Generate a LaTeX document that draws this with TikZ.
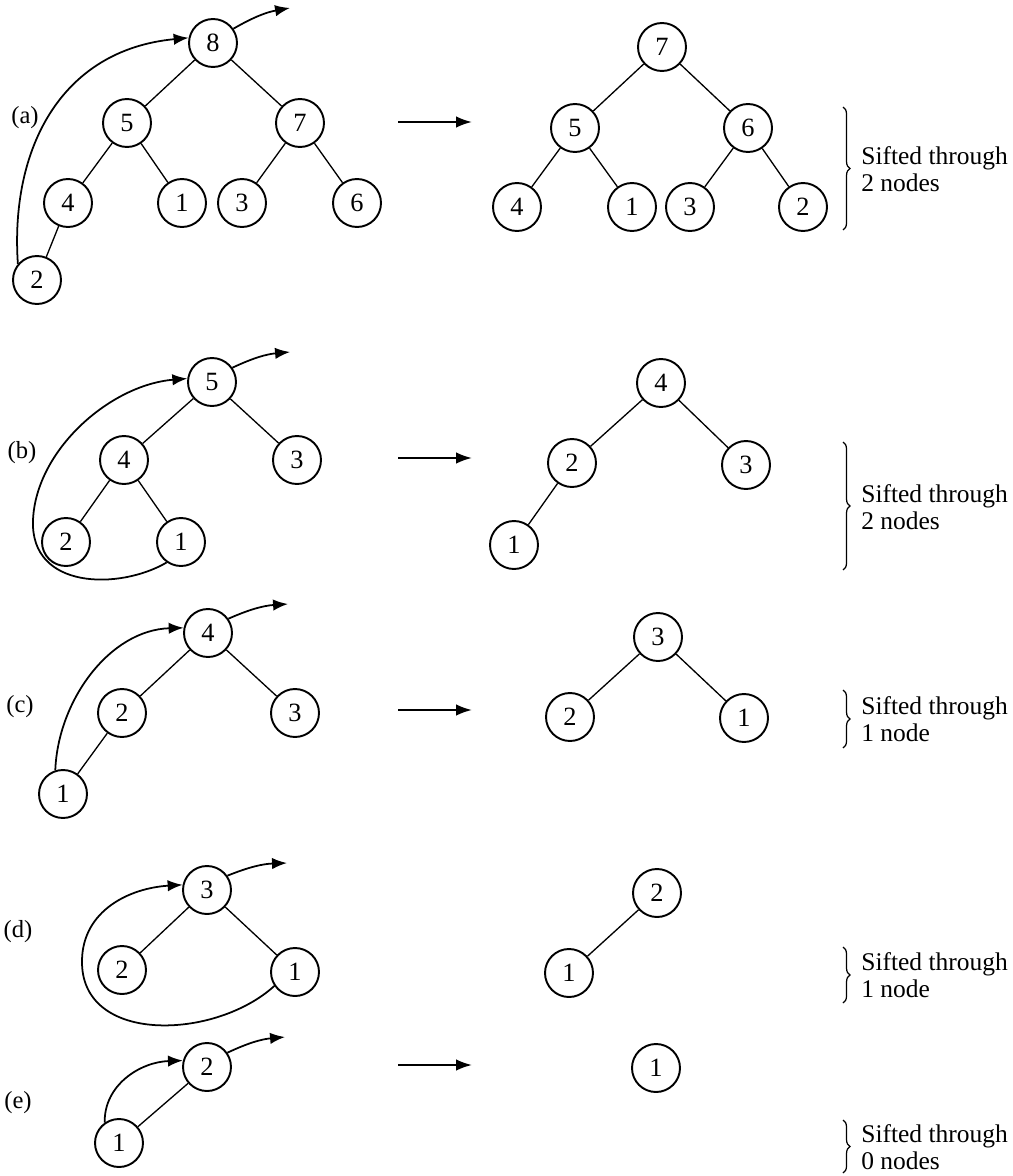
\documentclass[tikz,border=0pt]{standalone}
\usepackage{fontspec}
\setmainfont{Liberation Serif}
\usetikzlibrary{arrows.meta,decorations.pathreplacing}

\tikzset{
    heapnode/.style={circle, draw, line width=1.1pt, minimum size=0.96cm, inner sep=0pt, font=\fontsize{15}{15}\selectfont},
    link/.style={line width=0.75pt},
    sift/.style={line width=1pt, -{Latex[length=8.5pt,width=6.5pt]}},
    move/.style={line width=1.2pt, -{Latex[length=9pt,width=6.5pt]}},
    tag/.style={font=\fontsize{14}{14}\selectfont},
    note/.style={anchor=west, align=left, inner sep=0pt, font=\fontsize{14.5}{15}\selectfont},
    bracket/.style={decorate, decoration={brace, amplitude=4pt}, line width=0.7pt},
}

\begin{document}
\begin{tikzpicture}[x=0.02cm, y=0.02cm]
    \useasboundingbox (0,0) rectangle (1013,-1176);

    % (a) before
    \node[tag] (taga) at (25,-118) {(a)};
    \foreach \n/\x/\y in {8/213/43, 5/127/123, 7/300/123, 4/68/203, 1/182/203, 3/242/203, 6/357/203, 2/37/280}
        \node[heapnode] (la\n) at (\x,-\y) {\n};
    \foreach \u/\v in {8/5, 8/7, 5/4, 5/1, 7/3, 7/6, 4/2}
        \draw[link] (la\u) -- (la\v);
    \draw[sift] (la2.140) .. controls (10,-150) and (60,-50) .. (la8.168);
    \coordinate (oa) at (290,-8);
    \draw[sift] (la8.35) to[bend left=10] (oa);

    % (a) after
    \foreach \n/\x/\y in {7/662/47, 5/575/128, 6/748/128, 4/517/207, 1/632/207, 3/690/207, 2/803/207}
        \node[heapnode] (ra\n) at (\x,-\y) {\n};
    \foreach \u/\v in {7/5, 7/6, 5/4, 5/1, 6/3, 6/2}
        \draw[link] (ra\u) -- (ra\v);

    % (b) before
    \node[tag] (tagb) at (22,-453) {(b)};
    \foreach \n/\x/\y in {5/212/382, 4/124/460, 3/297/460, 2/66/542, 1/181/542}
        \node[heapnode] (lb\n) at (\x,-\y) {\n};
    \foreach \u/\v in {5/4, 5/3, 4/2, 4/1}
        \draw[link] (lb\u) -- (lb\v);
    \draw[sift] (lb1.235) .. controls (120,-590) and (30,-590) .. (33,-520)
        .. controls (36,-450) and (110,-385) .. (lb5.172);
    \coordinate (ob) at (290,-352);
    \draw[sift] (lb5.35) to[bend left=10] (ob);

    % (b) after
    \foreach \n/\x/\y in {4/661/383, 2/572/463, 3/746/465, 1/514/545}
        \node[heapnode] (rb\n) at (\x,-\y) {\n};
    \foreach \u/\v in {4/2, 4/3, 2/1}
        \draw[link] (rb\u) -- (rb\v);

    % (c) before
    \node[tag] (tagc) at (20,-707) {(c)};
    \foreach \n/\x/\y in {4/208/633, 2/122/713, 3/295/713, 1/63/794}
        \node[heapnode] (lc\n) at (\x,-\y) {\n};
    \foreach \u/\v in {4/2, 4/3, 2/1}
        \draw[link] (lc\u) -- (lc\v);
    \draw[sift] (lc1.108) .. controls (58,-700) and (110,-630) .. (lc4.168);
    \coordinate (oc) at (288,-604);
    \draw[sift] (lc4.35) to[bend left=10] (oc);

    % (c) after
    \foreach \n/\x/\y in {3/658/637, 2/570/717, 1/744/718}
        \node[heapnode] (rc\n) at (\x,-\y) {\n};
    \foreach \u/\v in {3/2, 3/1}
        \draw[link] (rc\u) -- (rc\v);

    % (d) before
    \node[tag] (tagd) at (18,-932) {(d)};
    \foreach \n/\x/\y in {3/207/890, 2/122/970, 1/295/972}
        \node[heapnode] (ld\n) at (\x,-\y) {\n};
    \foreach \u/\v in {3/2, 3/1}
        \draw[link] (ld\u) -- (ld\v);
    \draw[sift] (ld1.214) .. controls (215,-1040) and (80,-1045) .. (82,-960)
        .. controls (83,-910) and (130,-888) .. (ld3.168);
    \coordinate (od) at (287,-863);
    \draw[sift] (ld3.35) to[bend left=10] (od);

    % (d) after
    \foreach \n/\x/\y in {2/657/893, 1/569/973}
        \node[heapnode] (rd\n) at (\x,-\y) {\n};
    \draw[link] (rd2) -- (rd1);

    % (e) before
    \node[tag] (tage) at (18,-1103) {(e)};
    \foreach \n/\x/\y in {2/207/1067, 1/119/1143}
        \node[heapnode] (le\n) at (\x,-\y) {\n};
    \draw[link] (le2) -- (le1);
    \draw[sift] (le1.125) .. controls (104,-1085) and (140,-1062) .. (le2.165);
    \coordinate (oe) at (285,-1037);
    \draw[sift] (le2.35) to[bend left=10] (oe);

    % (e) after
    \node[heapnode] (re1) at (656,-1068) {1};

    % arrows between before and after
    \foreach \p/\y in {a/122, b/458, c/710, e/1065} {
        \coordinate (s\p) at (398,-\y);
        \coordinate (t\p) at (472,-\y);
        \draw[move] (s\p) -- (t\p);
    }

    % braces and notes
    \foreach \p/\top/\bot/\tip/\txt in {a/107/230/169/2 nodes, b/442/570/507/2 nodes, c/690/748/719/1 node, d/947/1003/975/1 node, e/1120/1173/1147/0 nodes} {
        \coordinate (bt\p) at (843,-\top);
        \coordinate (bb\p) at (843,-\bot);
        \draw[bracket] (bt\p) -- (bb\p);
        \node[note] (note\p) at (861,-\tip) {Sifted through\\\txt};
    }
\end{tikzpicture}
\end{document}
